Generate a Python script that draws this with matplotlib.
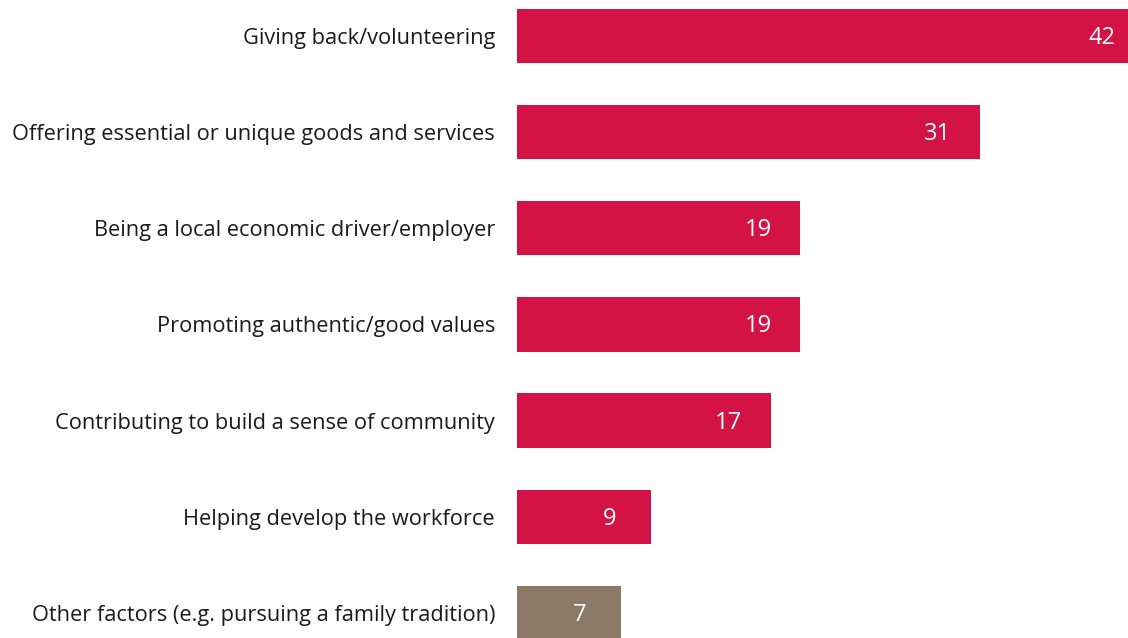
import matplotlib
matplotlib.use("Agg")
import matplotlib.pyplot as plt

categories = [
    "Giving back/volunteering",
    "Offering essential or unique goods and services",
    "Being a local economic driver/employer",
    "Promoting authentic/good values",
    "Contributing to build a sense of community",
    "Helping develop the workforce",
    "Other factors (e.g. pursuing a family tradition)",
]
values = [42, 31, 19, 19, 17, 9, 7]
colors = ["#D31245"] * 6 + ["#8B7866"]

plt.rcParams['font.family'] = ['Open Sans', 'DejaVu Sans']

fig = plt.figure(figsize=(11.28, 6.38), dpi=100)
ax = fig.add_axes([517/1128, 0, 1 - 517/1128, 1])
y = list(range(len(categories)))
ax.barh(y, values, height=0.565, color=colors)
ax.set_xlim(0, 40.95)
ax.set_ylim(6.26, -0.374)
ax.set_yticks(y)
ax.set_yticklabels(categories, fontsize=15.7, color="#1a1a1a")
ax.tick_params(axis='y', length=0, pad=15.8)
ax.set_xticks([])
for s in ax.spines.values():
    s.set_visible(False)
for yi, v in zip(y, values):
    ax.text(v - 2.8, yi + 0.02, str(v), ha='center', va='center',
            color='white', fontsize=17)

fig.savefig("out.png", dpi=100)
